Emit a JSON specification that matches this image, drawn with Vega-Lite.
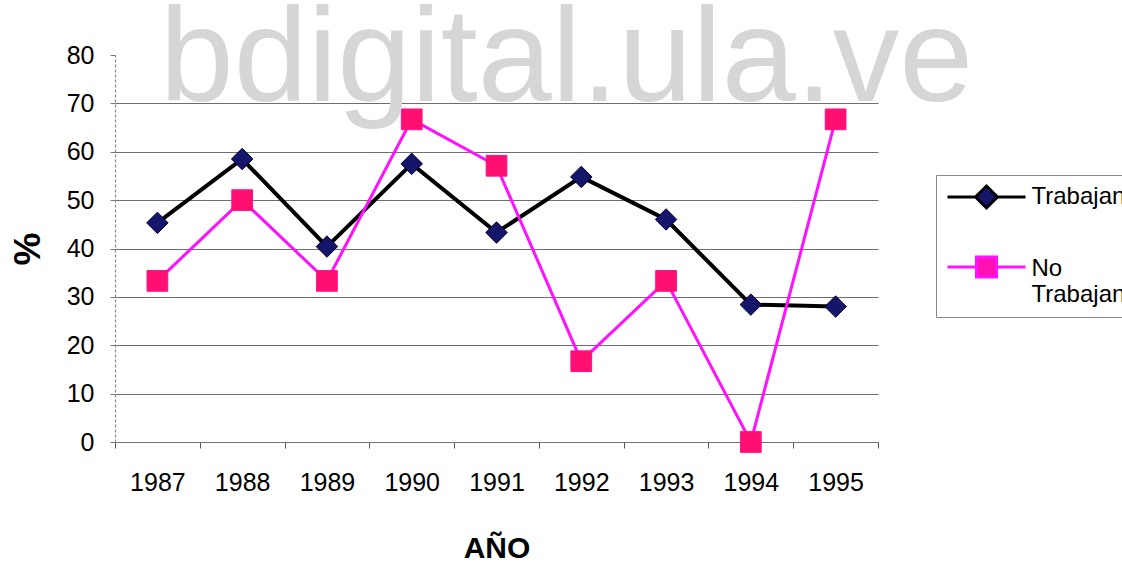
{
  "$schema": "https://vega.github.io/schema/vega-lite/v6.json",
  "autosize": {"type": "none"},
  "width": 763,
  "height": 387,
  "padding": {"left": 115, "top": 55, "right": 244, "bottom": 119},
  "background": "white",
  "title": {
    "text": "bdigital.ula.ve",
    "font": "Liberation Sans", "fontSize": 133, "fontWeight": "normal",
    "color": "#d6d6d6", "anchor": "middle", "frame": "group",
    "dx": 70, "offset": -86
  },
  "config": {
    "font": "Liberation Sans",
    "view": {"stroke": null},
    "axis": {"labelColor": "#000", "titleColor": "#000", "labelFont": "Liberation Sans", "titleFont": "Liberation Sans"}
  },
  "data": {
    "values": [
      {"year": "1987", "serie": "Trabajan", "value": 45.3},
      {"year": "1988", "serie": "Trabajan", "value": 58.5},
      {"year": "1989", "serie": "Trabajan", "value": 40.4},
      {"year": "1990", "serie": "Trabajan", "value": 57.5},
      {"year": "1991", "serie": "Trabajan", "value": 43.3},
      {"year": "1992", "serie": "Trabajan", "value": 54.8},
      {"year": "1993", "serie": "Trabajan", "value": 46.0},
      {"year": "1994", "serie": "Trabajan", "value": 28.4},
      {"year": "1995", "serie": "Trabajan", "value": 28.0},
      {"year": "1987", "serie": "No Trabajan", "value": 33.3},
      {"year": "1988", "serie": "No Trabajan", "value": 50.0},
      {"year": "1989", "serie": "No Trabajan", "value": 33.3},
      {"year": "1990", "serie": "No Trabajan", "value": 66.7},
      {"year": "1991", "serie": "No Trabajan", "value": 57.1},
      {"year": "1992", "serie": "No Trabajan", "value": 16.7},
      {"year": "1993", "serie": "No Trabajan", "value": 33.3},
      {"year": "1994", "serie": "No Trabajan", "value": 0},
      {"year": "1995", "serie": "No Trabajan", "value": 66.7}
    ]
  },
  "encoding": {
    "x": {
      "field": "year", "type": "ordinal",
      "scale": {"type": "band", "paddingInner": 0, "paddingOuter": 0},
      "axis": {
        "title": "AÑO", "titleFontSize": 30, "titleFontWeight": "bold", "titlePadding": 38,
        "labelAngle": 0, "labelFontSize": 25, "labelPadding": 22,
        "tickBand": "extent", "tickSize": 6, "tickColor": "#555", "tickWidth": 1,
        "domainColor": "#777", "domainDash": [4, 2], "domainWidth": 1.2,
        "grid": false
      }
    },
    "y": {
      "field": "value", "type": "quantitative",
      "scale": {"domain": [0, 80], "nice": false},
      "axis": {
        "title": "%", "titleFontSize": 37, "titleFontWeight": "bold", "titlePadding": 19,
        "values": [0, 10, 20, 30, 40, 50, 60, 70, 80],
        "labelFontSize": 25, "labelPadding": 16,
        "tickSize": 5, "tickColor": "#777",
        "domainColor": "#888", "domainDash": [3, 2], "domainWidth": 1.2,
        "grid": true, "gridColor": "#555", "gridWidth": 1,
        "gridOpacity": {"condition": {"test": "datum.value === 80", "value": 0}, "value": 0.85}
      }
    }
  },
  "layer": [
    {
      "mark": {"type": "line"},
      "encoding": {
        "color": {
          "field": "serie", "type": "nominal",
          "scale": {"domain": ["Trabajan", "No Trabajan"], "range": ["#000000", "#ff10ff"]},
          "legend": {
            "title": null, "orient": "none", "legendX": 821, "legendY": 120,
            "direction": "vertical",
            "strokeColor": "#888", "padding": 10, "fillColor": "white",
            "symbolSize": 400, "symbolStrokeWidth": 3, "symbolOffset": 28.5,
            "labelFontSize": 24, "labelFont": "Liberation Sans", "labelColor": "#000",
            "labelOffset": 33, "labelLimit": 0, "rowPadding": 37, "labelLineHeight": 32,
            "labelExpr": "datum.label === 'No Trabajan' ? ['No', 'Trabajan'] : datum.label",
            "encode": {
              "symbols": {"update": {
                "shape": {"signal": "datum.value === 'Trabajan' ? 'M-3.9,0H-1.1L0,-1.1L1.1,0L0,1.1L-1.1,0ZM1.1,0H3.9' : 'M-3.9,0H-1V-1H1V1H-1V0ZM1,0H3.9'"},
                "fill": {"signal": "datum.value === 'Trabajan' ? '#15156a' : '#ff10b0'"},
                "stroke": {"signal": "datum.value === 'Trabajan' ? '#000000' : '#ff10ff'"},
                "size": {"value": 400},
                "strokeWidth": {"value": 3},
                "opacity": {"value": 1}
              }},
              "labels": {"update": {"dy": {"signal": "datum.value === 'No Trabajan' ? 2 : 0"}}}
            }
          }
        },
        "strokeWidth": {"condition": {"test": "datum.serie === 'Trabajan'", "value": 4}, "value": 3}
      }
    },
    {
      "mark": {"type": "point", "filled": true, "opacity": 1, "strokeWidth": 1},
      "encoding": {
        "shape": {"condition": {"test": "datum.serie === 'Trabajan'", "value": "diamond"}, "value": "square"},
        "fill": {"condition": {"test": "datum.serie === 'Trabajan'", "value": "#15156a"}, "value": "#ff1070"},
        "stroke": {"condition": {"test": "datum.serie === 'Trabajan'", "value": "#000030"}, "value": "#ff1090"},
        "size": {"condition": {"test": "datum.serie === 'Trabajan'", "value": 460}, "value": 430}
      }
    }
  ]
}
